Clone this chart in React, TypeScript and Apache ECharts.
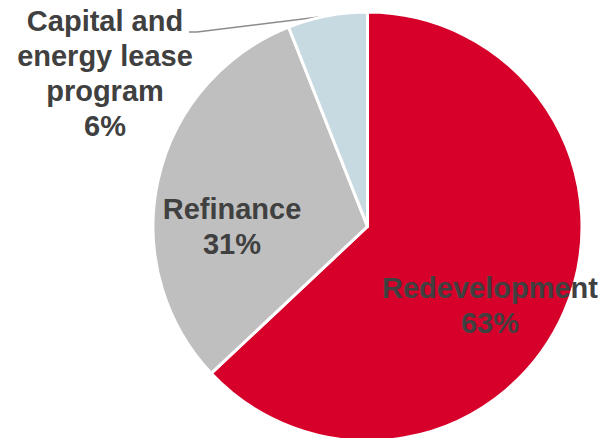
import React, { useEffect, useRef } from "react";
import * as echarts from "echarts";

const categories = ["Redevelopment", "Refinance", "Capital and\nenergy lease\nprogram"];
const values = [63, 31, 6];
const colors = ["#D6002B", "#BFBFBF", "#C7DAE1"];

export default function App() {
  const ref = useRef<HTMLDivElement>(null);
  useEffect(() => {
    const chart = echarts.init(ref.current!, undefined, { renderer: "svg" });
    const labelPos = [
      { x: 490, y: 305 },
      { x: 232, y: 226 },
      { x: 105, y: 73 },
    ];
    chart.setOption({
      animation: false,
      backgroundColor: "#ffffff",
      series: [
        {
          type: "pie",
          center: [367.5, 226.5],
          radius: 214.5,
          startAngle: 90,
          clockwise: true,
          avoidLabelOverlap: false,
          itemStyle: { borderColor: "#ffffff", borderWidth: 3 },
          label: {
            show: true,
            position: "inside",
            formatter: (p: any) => `${p.name}\n${p.value}%`,
            fontFamily: "'Liberation Sans', Arial, sans-serif",
            fontWeight: "bold",
            fontSize: 29,
            lineHeight: 35,
            color: "#404040",
            align: "center",
          },
          labelLine: { show: false },
          labelLayout: (params: any) => {
            const lp = labelPos[params.dataIndex];
            const out: any = { x: lp.x, y: lp.y, align: "center", verticalAlign: "middle" };
            if (params.dataIndex === 2) {
              out.labelLinePoints = [
                [327, 16],
                [197, 32],
                [189, 32],
              ];
            }
            return out;
          },
          data: categories.map((name, i) => ({
            name,
            value: values[i],
            itemStyle: { color: colors[i] },
            ...(i === 2
              ? {
                  label: { position: "outside" },
                  labelLine: { show: true, lineStyle: { color: "#8C8C8C", width: 1.5 } },
                }
              : {}),
          })),
        },
      ],
    });
    return () => chart.dispose();
  }, []);
  return (
    <div
      ref={ref}
      style={{ position: "absolute", left: 0, top: 0, width: 608, height: 438 }}
    />
  );
}
